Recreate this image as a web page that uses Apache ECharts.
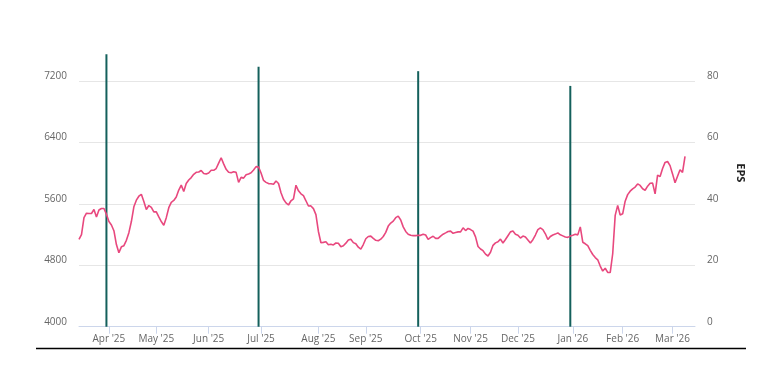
<!DOCTYPE html>
<html>
<head>
<meta charset="utf-8">
<script src="https://cdn.jsdelivr.net/npm/echarts@6/dist/echarts.min.js"></script>
<style>
html,body{margin:0;padding:0;background:#fff;}
#chart{width:762px;height:375px;}
</style>
</head>
<body>
<div id="chart"></div>
<script>
// Exchange holidays (trading calendar used for the ordinal x axis)
const holidays = ['2025-03-14','2025-03-31','2025-04-10','2025-04-14','2025-04-18','2025-05-01',
  '2025-08-15','2025-08-27','2025-10-02','2025-10-21','2025-10-22','2025-11-05','2025-12-25',
  '2026-01-15','2026-01-26','2026-03-03'];
const firstDay = '2025-03-12';
const lastDay = '2026-03-16';

// Daily price (left axis), one value per trading day from firstDay
const price = [
  5137, 5200, 5420, 5478, 5475, 5475, 5526, 5430, 5520, 5540,
  5540, 5465, 5370, 5325, 5250, 5070, 4964, 5040, 5055, 5125,
  5225, 5370, 5561, 5648, 5699, 5725, 5630, 5525, 5578, 5555,
  5495, 5496, 5430, 5370, 5320, 5420, 5550, 5620, 5644, 5690,
  5780, 5845, 5760, 5865, 5910, 5942, 5985, 6011, 6015, 6035,
  5995, 5988, 6002, 6037, 6037, 6060, 6130, 6200, 6120, 6050,
  6012, 6005, 6018, 6010, 5880, 5945, 5935, 5980, 5990, 6005,
  6040, 6085, 6080, 6002, 5905, 5880, 5864, 5862, 5855, 5898,
  5865, 5745, 5660, 5613, 5585, 5640, 5666, 5842, 5770, 5730,
  5706, 5640, 5572, 5573, 5538, 5460, 5240, 5094, 5098, 5107,
  5068, 5075, 5065, 5090, 5086, 5042, 5055, 5088, 5129, 5140,
  5095, 5080, 5035, 5010, 5070, 5145, 5175, 5180, 5150, 5125,
  5120, 5140, 5175, 5228, 5310, 5350, 5375, 5420, 5440, 5390,
  5300, 5240, 5205, 5190, 5186, 5186, 5192, 5190, 5205, 5194,
  5138, 5160, 5178, 5150, 5150, 5180, 5205, 5222, 5240, 5245,
  5216, 5226, 5235, 5235, 5288, 5252, 5280, 5265, 5245, 5170,
  5045, 5012, 4990, 4945, 4921, 4970, 5060, 5092, 5107, 5140,
  5090, 5135, 5185, 5235, 5245, 5205, 5192, 5155, 5180, 5168,
  5130, 5090, 5133, 5194, 5265, 5287, 5265, 5210, 5135, 5175,
  5195, 5206, 5222, 5197, 5183, 5168, 5163, 5180, 5192, 5205,
  5196, 5300, 5100, 5080, 5055, 4995, 4940, 4900, 4871, 4790,
  4725, 4761, 4708, 4705, 4950, 5450, 5580, 5455, 5470, 5635,
  5720, 5765, 5795, 5818, 5860, 5840, 5797, 5777, 5830, 5868,
  5870, 5730, 5975, 5955, 6060, 6140, 6152, 6098, 5990, 5875,
  5960, 6045, 6010, 6218
];

// Quarterly EPS (right axis)
const epsDates = ['2025-03-28', '2025-06-30', '2025-09-30', '2025-12-31'];
const epsValues = [88.7, 84.6, 83.2, 78.4];

const leftTicks = {min: 4000, max: 7200, interval: 800};
const rightTicks = {min: 0, max: 80, interval: 20};
const monthNames = ['Jan','Feb','Mar','Apr','May','Jun','Jul','Aug','Sep','Oct','Nov','Dec'];

function tradingDays() {
  const out = [];
  let t = Date.parse(firstDay + 'T00:00:00Z');
  const end = Date.parse(lastDay + 'T00:00:00Z');
  while (t <= end) {
    const d = new Date(t);
    const wd = d.getUTCDay();
    const s = d.toISOString().slice(0, 10);
    if (wd !== 0 && wd !== 6 && holidays.indexOf(s) < 0) out.push(s);
    t += 86400000;
  }
  return out;
}
const days = tradingDays();
function isMonthStart(i) {
  return i > 0 && days[i].slice(5, 7) !== days[i - 1].slice(5, 7);
}

const chart = echarts.init(document.getElementById('chart'));
const labelFont = {color: '#666666', fontSize: 10, fontFamily: 'Open Sans'};

chart.setOption({
  animation: false,
  grid: {left: 79, right: 67, top: 81, bottom: 48.3},
  xAxis: {
    type: 'category',
    data: days,
    boundaryGap: false,
    axisLine: {lineStyle: {color: '#ccd6eb', width: 1}},
    axisTick: {interval: (i) => isMonthStart(i), length: 7, lineStyle: {color: '#ccd6eb'}},
    axisLabel: Object.assign({
      interval: (i) => isMonthStart(i),
      margin: 7,
      formatter: (v) => monthNames[+v.slice(5, 7) - 1] + " '" + v.slice(2, 4)
    }, labelFont),
    splitLine: {show: false}
  },
  yAxis: [
    {
      type: 'value', position: 'left',
      min: leftTicks.min, max: leftTicks.max, interval: leftTicks.interval,
      axisLine: {show: false}, axisTick: {show: false},
      axisLabel: Object.assign({margin: 12, verticalAlign: 'bottom', formatter: (v) => String(v)}, labelFont),
      splitLine: {lineStyle: {color: '#e6e6e6', width: 1}}
    },
    {
      type: 'value', position: 'right',
      min: rightTicks.min, max: rightTicks.max, interval: rightTicks.interval,
      name: 'EPS', nameLocation: 'middle', nameRotate: -90, nameGap: 40,
      nameTextStyle: {fontWeight: 'bold', color: '#222', fontSize: 11, fontFamily: 'Open Sans', padding: [0, 62, 0, 0]},
      axisLine: {show: false}, axisTick: {show: false},
      axisLabel: Object.assign({margin: 12, verticalAlign: 'bottom', formatter: (v) => String(v)}, labelFont),
      splitLine: {show: false}
    }
  ],
  series: [
    {
      name: 'Price', type: 'line', yAxisIndex: 0,
      data: price, symbol: 'none', connectNulls: true,
      lineStyle: {color: '#e8487e', width: 1.6}
    },
    {
      name: 'EPS', type: 'bar', yAxisIndex: 1,
      data: epsDates.map((d, i) => [d, epsValues[i]]),
      barWidth: 2, clip: false,
      itemStyle: {color: '#14605c'}
    }
  ],
  graphic: [{
    type: 'line', silent: true,
    shape: {x1: 36, y1: 348.5, x2: 746, y2: 348.5},
    style: {stroke: '#000', lineWidth: 1.5}
  }]
});
</script>
</body>
</html>
